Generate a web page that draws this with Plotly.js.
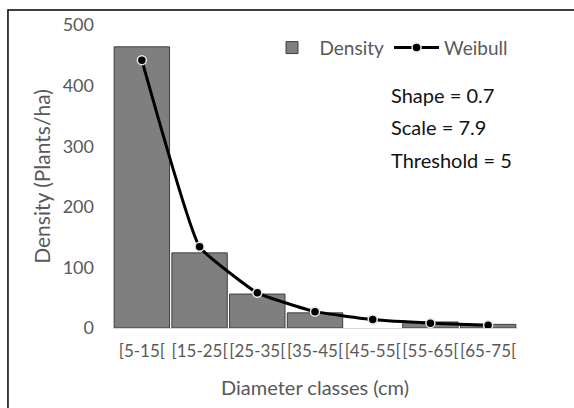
<!DOCTYPE html>
<html><head><meta charset="utf-8">
<script src="https://cdn.plot.ly/plotly-3.0.1.min.js"></script>
<style>html,body{margin:0;padding:0;background:#fff}#chart{width:574px;height:408px}</style>
</head><body><div id="chart"></div>
<script>
const categories = ["[5-15[", "[15-25[", "[25-35[", "[35-45[", "[45-55[", "[55-65[", "[65-75["];
const density = [464, 124, 56, 25, 0, 10, 6];
const weibull = [442, 134, 58, 27, 14, 8, 4.5];
const paramLines = ["Shape = 0.7", "Scale = 7.9", "Threshold = 5"];

const FONT = 'Lato, "Noto Sans", sans-serif';

const traces = [
  {type: 'bar', name: 'Density', x: categories, y: density,
   marker: {color: '#7f7f7f', line: {color: '#3f3f3f', width: density.map(v => v > 0 ? 1 : 0)}}},
  {type: 'scatter', mode: 'lines+markers', name: 'Weibull', x: categories, y: weibull,
   line: {color: '#000', width: 3, shape: 'spline', smoothing: 0.35},
   marker: {color: '#000', size: 9, line: {color: '#e8e8e8', width: 1.5}}}
];

const layout = {
  width: 574, height: 408,
  margin: {l: 113, r: 57, t: 25, b: 80},
  paper_bgcolor: '#fff', plot_bgcolor: '#fff',
  font: {family: FONT, color: '#595959', size: 17},
  bargap: 0.04,
  showlegend: true,
  legend: {orientation: 'h', x: 0.375, xanchor: 'left', y: 0.925, yanchor: 'middle',
           font: {size: 19, color: '#595959'}, bgcolor: 'rgba(0,0,0,0)', itemwidth: 45},
  xaxis: {type: 'category', showgrid: false, zeroline: false, showline: true,
          linecolor: '#d9d9d9', linewidth: 1, ticks: '', tickangle: 0,
          ticklabelstandoff: 8,
          tickfont: {size: 17, color: '#595959'},
          title: {text: 'Diameter classes (cm)', font: {size: 20, color: '#595959'}, standoff: 20}},
  yaxis: {range: [0, 500], dtick: 100, showgrid: false, zeroline: false, showline: false,
          ticks: '', ticklabelstandoff: 18, tickfont: {size: 18, color: '#595959'},
          title: {text: 'Density (Plants/ha)', font: {size: 21, color: '#595959'}, standoff: 6}},
  annotations: paramLines.map((t, i) => ({
    xref: 'paper', yref: 'paper', x: 0.682, y: 0.77 - i * 0.107, xanchor: 'left', yanchor: 'middle',
    text: t, showarrow: false, font: {size: 20, color: '#111'}
  })),
  shapes: [{type: 'rect', xref: 'paper', yref: 'paper', x0: -0.26, x1: 1.6, y0: -0.5, y1: 1.0495,
            line: {color: '#000', width: 1.5}, fillcolor: 'rgba(0,0,0,0)', layer: 'below'}]
};

Plotly.newPlot('chart', traces, layout, {displayModeBar: false, staticPlot: true});
</script></body></html>
